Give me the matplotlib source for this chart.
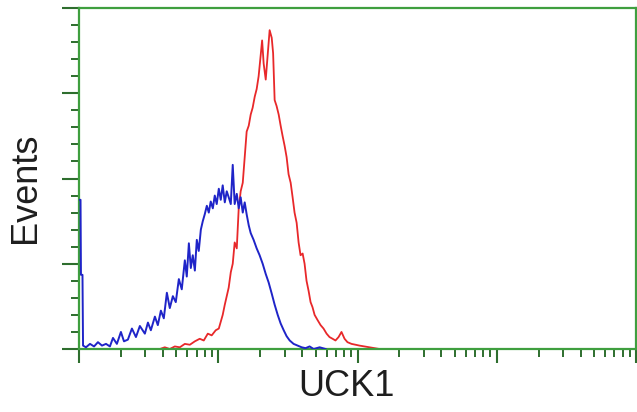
import matplotlib
matplotlib.use("Agg")
import matplotlib.pyplot as plt
from matplotlib.ticker import LogLocator, MultipleLocator, NullFormatter
import numpy as np

# Isotype control (blue): log10 fluorescence (decades) and event counts
blue_log = [0.000, 0.011, 0.014, 0.025, 0.029, 0.050, 0.079, 0.108, 0.136, 0.165,
            0.194, 0.222, 0.244, 0.272, 0.301, 0.323, 0.351, 0.380, 0.409, 0.437,
            0.473, 0.495, 0.516, 0.545, 0.566, 0.588, 0.609, 0.631, 0.652, 0.674,
            0.695, 0.717, 0.738, 0.760, 0.774, 0.789, 0.803, 0.817, 0.832, 0.846,
            0.860, 0.875, 0.889, 0.903, 0.918, 0.932, 0.946, 0.961, 0.975, 0.989,
            1.004, 1.018, 1.032, 1.047, 1.061, 1.075, 1.090, 1.104, 1.118, 1.133,
            1.147, 1.161, 1.176, 1.190, 1.204, 1.219, 1.233, 1.254, 1.276, 1.297,
            1.319, 1.341, 1.362, 1.384, 1.405, 1.427, 1.448, 1.470, 1.491, 1.513,
            1.541, 1.570, 1.599, 1.627, 1.656, 1.685, 1.728, 1.771]
blue_cnt = [175, 175, 87, 87, 4, 2, 6, 3, 8, 4,
            6, 3, 13, 6, 20, 9, 11, 24, 14, 27,
            18, 31, 22, 38, 28, 45, 36, 66, 48, 62,
            55, 82, 70, 104, 85, 124, 95, 110, 92, 128,
            115, 140, 150, 158, 168, 160, 173, 165, 180, 170,
            188, 175, 192, 172, 185, 178, 170, 216, 170, 182,
            165, 178, 160, 172, 158, 145, 136, 128, 118, 110,
            100, 88, 78, 65, 52, 40, 30, 22, 15, 10,
            6, 4, 2, 1, 3, 0, 2, 0]

# UCK1 stained (red)
red_log = [0.581, 0.616, 0.652, 0.688, 0.724, 0.760, 0.796, 0.832, 0.867, 0.896,
           0.925, 0.953, 0.982, 1.004, 1.018, 1.032, 1.047, 1.061, 1.075, 1.090,
           1.104, 1.118, 1.133, 1.147, 1.161, 1.176, 1.190, 1.204, 1.219, 1.233,
           1.247, 1.262, 1.276, 1.290, 1.305, 1.315, 1.326, 1.341, 1.355, 1.369,
           1.384, 1.394, 1.405, 1.419, 1.434, 1.448, 1.462, 1.477, 1.491, 1.505,
           1.520, 1.534, 1.548, 1.563, 1.577, 1.591, 1.606, 1.620, 1.634, 1.649,
           1.663, 1.677, 1.692, 1.713, 1.735, 1.756, 1.778, 1.799, 1.821, 1.842,
           1.864, 1.885, 1.907, 1.928, 1.957, 1.986, 2.014, 2.050, 2.086, 2.122,
           2.158]
red_cnt = [0, 2, 0, 3, 2, 6, 5, 9, 12, 10,
           18, 16, 22, 24, 32, 40, 52, 62, 72, 90,
           100, 125, 118, 165, 185, 195, 225, 255, 262, 275,
           283, 296, 305, 320, 345, 362, 335, 316, 345, 374,
           365, 347, 292, 285, 275, 262, 250, 238, 225, 205,
           195, 178, 160, 148, 125, 110, 112, 100, 80, 68,
           55, 49, 40, 34, 28, 24, 18, 14, 12, 10,
           14, 20, 12, 8, 6, 5, 4, 3, 2, 1,
           0]

x_label = "UCK1"
y_label = "Events"

W, H = 637, 412
fig = plt.figure(figsize=(W / 100, H / 100), dpi=100)
ax = fig.add_axes([79 / W, (H - 349) / H, (636 - 79) / W, 341 / H])

blue_x = np.power(10.0, blue_log)
red_x = np.power(10.0, red_log)
ax.plot(blue_x, blue_cnt, color="#1f24c8", lw=1.4, zorder=3)
ax.plot(red_x, red_cnt, color="#e8282a", lw=1.3, zorder=2)

ax.set_xscale("log")
ax.set_xlim(1, 1e4)
ax.set_ylim(0, 400)

spine_col = "#3f9f3f"
tick_col = "#2e6e2e"
for s in ax.spines.values():
    s.set_color(spine_col)
    s.set_linewidth(1.6)

ax.xaxis.set_major_locator(LogLocator(base=10, numticks=10))
ax.xaxis.set_minor_locator(LogLocator(base=10, subs=np.arange(2, 10), numticks=50))
ax.xaxis.set_major_formatter(NullFormatter())
ax.xaxis.set_minor_formatter(NullFormatter())
ax.yaxis.set_major_locator(MultipleLocator(100))
ax.yaxis.set_minor_locator(MultipleLocator(20))
ax.yaxis.set_major_formatter(NullFormatter())

ax.tick_params(axis="x", which="major", direction="out", length=10, width=1.5, color=tick_col)
ax.tick_params(axis="x", which="minor", direction="out", length=5.5, width=1.4, color=tick_col)
ax.tick_params(axis="y", which="major", direction="out", length=12, width=1.5, color=tick_col)
ax.tick_params(axis="y", which="minor", direction="out", length=5.5, width=1.4, color=tick_col)

fig.text(26 / W, 1 - 188 / H, y_label, rotation=90, fontsize=26,
         family=["Liberation Sans", "DejaVu Sans"], color="#1e1e1e",
         ha="center", va="center")
fig.text(346 / W, 1 - 387 / H, x_label, fontsize=26,
         family=["Liberation Sans", "DejaVu Sans"], color="#1e1e1e",
         ha="center", va="center")

fig.savefig("out.png", dpi=100, facecolor="white")
